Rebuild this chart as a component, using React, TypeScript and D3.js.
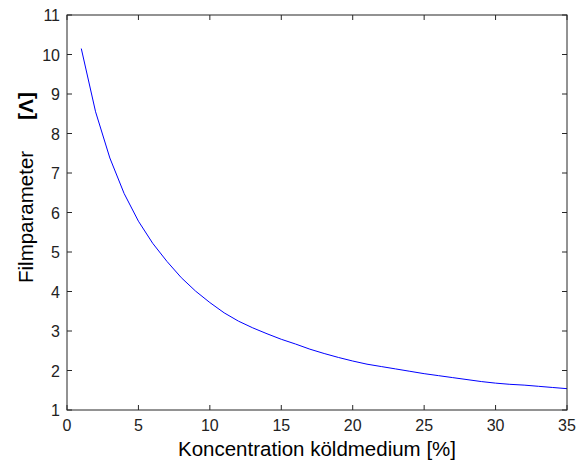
import React from "react";
import * as d3 from "d3";

const concentration = [1, 2, 3, 4, 5, 6, 7, 8, 9, 10, 11, 12, 13, 14, 15, 16, 17, 18, 19, 20, 21, 22, 23, 24, 25, 26, 27, 28, 29, 30, 31, 32, 33, 34, 35];
const filmParameter = [10.15, 8.55, 7.38, 6.48, 5.78, 5.22, 4.76, 4.35, 4.01, 3.72, 3.46, 3.25, 3.08, 2.93, 2.79, 2.67, 2.54, 2.43, 2.33, 2.24, 2.16, 2.1, 2.04, 1.98, 1.92, 1.87, 1.82, 1.77, 1.72, 1.68, 1.65, 1.63, 1.6, 1.57, 1.54];
const xTicks = [0, 5, 10, 15, 20, 25, 30, 35];
const yTicks = [1, 2, 3, 4, 5, 6, 7, 8, 9, 10, 11];

const W = 579, H = 461;
const L = 67, R = 567, T = 15, B = 410;
const FONT = "Arial, 'Liberation Sans', sans-serif";

export default function App() {
  const x = d3.scaleLinear().domain([0, 35]).range([L, R]);
  const y = d3.scaleLinear().domain([1, 11]).range([B, T]);
  const line = d3.line<number>().x((_, i) => x(concentration[i])).y((d) => y(d));
  const tl = 5;
  const axisColor = "#262626";
  return (
    <svg width={W} height={H} style={{ position: "absolute", left: 0, top: 0, background: "#fff" }}>
      <rect x={0} y={0} width={W} height={H} fill="#fff" />
      <path d={line(filmParameter) || ""} fill="none" stroke="#0000ff" strokeWidth={1} />
      <rect x={L} y={T} width={R - L} height={B - T} fill="none" stroke={axisColor} strokeWidth={1} />
      {xTicks.map((t) => (
        <g key={"x" + t}>
          <line x1={x(t)} x2={x(t)} y1={B} y2={B - tl} stroke={axisColor} />
          <line x1={x(t)} x2={x(t)} y1={T} y2={T + tl} stroke={axisColor} />
          <text x={x(t)} y={431} textAnchor="middle" fontSize={16} fontFamily={FONT} fill="#222">{t}</text>
        </g>
      ))}
      {yTicks.map((t) => (
        <g key={"y" + t}>
          <line x1={L} x2={L + tl} y1={y(t)} y2={y(t)} stroke={axisColor} />
          <line x1={R} x2={R - tl} y1={y(t)} y2={y(t)} stroke={axisColor} />
          <text x={60} y={y(t) + 6} textAnchor="end" fontSize={16} fontFamily={FONT} fill="#222">{t}</text>
        </g>
      ))}
      <text x={(L + R) / 2} y={456} textAnchor="middle" fontSize={20.5} fontFamily={FONT} fill="#000">
        Koncentration köldmedium [%]
      </text>
      <text transform="translate(33,283) rotate(-90)" textAnchor="start" fontSize={20.5} fontFamily={FONT} fill="#000">
        Filmparameter
      </text>
      <text transform="translate(33,120) rotate(-90)" textAnchor="start" fontSize={21} fontWeight="bold" fontFamily={FONT} fill="#000">
        [Λ]
      </text>
    </svg>
  );
}
